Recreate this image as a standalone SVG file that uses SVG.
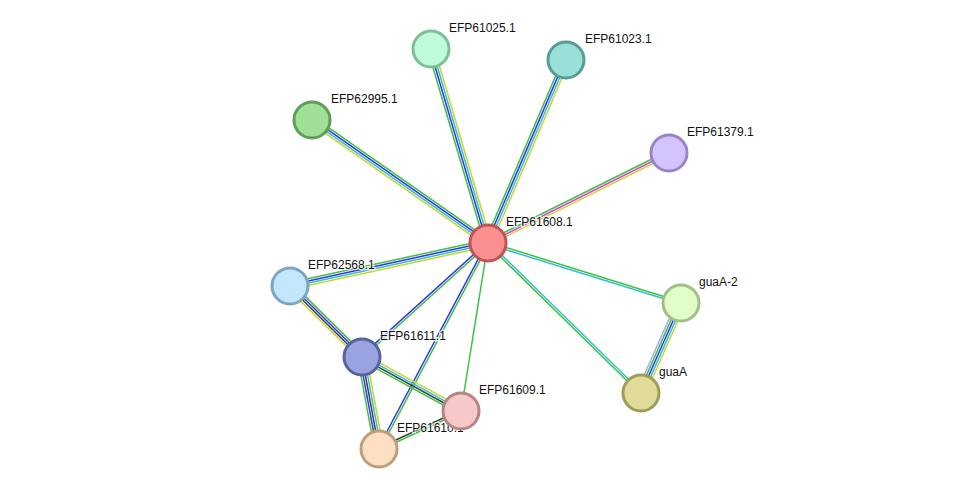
<svg xmlns="http://www.w3.org/2000/svg" width="975" height="495" viewBox="0 0 975 495">
<style>
.e line{stroke-width:1.5;fill:none}
.g{stroke:#3cc23c}.b{stroke:#3333ee}.c{stroke:#35bcd8}.y{stroke:#c6d62e}.m{stroke:#e040e0}.k{stroke:#404040}.l{stroke:#a6a6ff}
.n circle{stroke-width:3}
.n text{font-family:"Liberation Sans",Arial,sans-serif;font-size:12px;fill:#111;stroke:#fff;stroke-width:2.5;stroke-opacity:0.8;paint-order:stroke}
</style>
<rect width="975" height="495" fill="#fff"/>
<g id="connectors" class="e">
  <!-- center to EFP61025.1 -->
  <g transform="translate(488,243) rotate(-106.37)">
    <line class="g" x1="0" y1="-3.3" x2="202.2" y2="-3.3"/><line class="b" x1="0" y1="-1.1" x2="202.2" y2="-1.1"/><line class="c" x1="0" y1="1.1" x2="202.2" y2="1.1"/><line class="y" x1="0" y1="3.3" x2="202.2" y2="3.3"/>
  </g>
  <!-- center to EFP61023.1 -->
  <g transform="translate(488,243) rotate(-66.91)">
    <line class="g" x1="0" y1="-3.3" x2="198.9" y2="-3.3"/><line class="b" x1="0" y1="-1.1" x2="198.9" y2="-1.1"/><line class="c" x1="0" y1="1.1" x2="198.9" y2="1.1"/><line class="y" x1="0" y1="3.3" x2="198.9" y2="3.3"/>
  </g>
  <!-- center to EFP62995.1 -->
  <g transform="translate(488,243) rotate(-145.05)">
    <line class="g" x1="0" y1="3.3" x2="214.7" y2="3.3"/><line class="b" x1="0" y1="1.1" x2="214.7" y2="1.1"/><line class="c" x1="0" y1="-1.1" x2="214.7" y2="-1.1"/><line class="y" x1="0" y1="-3.3" x2="214.7" y2="-3.3"/>
  </g>
  <!-- center to EFP61379.1 -->
  <g transform="translate(488,243) rotate(-26.44)">
    <line class="g" x1="0" y1="-2.2" x2="202.1" y2="-2.2"/><line class="m" x1="0" y1="0" x2="202.1" y2="0"/><line class="y" x1="0" y1="2.2" x2="202.1" y2="2.2"/>
  </g>
  <!-- center to EFP62568.1 -->
  <g transform="translate(488,243) rotate(167.75)">
    <line class="g" x1="0" y1="3.3" x2="202.6" y2="3.3"/><line class="b" x1="0" y1="1.1" x2="202.6" y2="1.1"/><line class="c" x1="0" y1="-1.1" x2="202.6" y2="-1.1"/><line class="y" x1="0" y1="-3.3" x2="202.6" y2="-3.3"/>
  </g>
  <!-- center to guaA-2 -->
  <g transform="translate(488,243) rotate(17.27)">
    <line class="g" x1="0" y1="-1.1" x2="202.1" y2="-1.1"/><line class="c" x1="0" y1="1.1" x2="202.1" y2="1.1"/>
  </g>
  <!-- center to guaA -->
  <g transform="translate(488,243) rotate(44.43)">
    <line class="g" x1="0" y1="1.1" x2="214.3" y2="1.1"/><line class="c" x1="0" y1="-1.1" x2="214.3" y2="-1.1"/>
  </g>
  <!-- center to EFP61611.1 -->
  <g transform="translate(488,243) rotate(137.86)">
    <line class="b" x1="0" y1="1.1" x2="169.9" y2="1.1"/><line class="g" x1="0" y1="-1.1" x2="169.9" y2="-1.1"/>
  </g>
  <!-- center to EFP61610.1 -->
  <g transform="translate(488,243) rotate(117.89)">
    <line class="b" x1="0" y1="1.1" x2="233.1" y2="1.1"/><line class="g" x1="0" y1="-1.1" x2="233.1" y2="-1.1"/>
  </g>
  <!-- center to EFP61609.1 -->
  <line class="g" x1="488" y1="243" x2="461" y2="411"/>
  <!-- EFP62568.1 to EFP61611.1 -->
  <g transform="translate(290,286) rotate(44.6)">
    <line class="g" x1="0" y1="-3.3" x2="101.1" y2="-3.3"/><line class="b" x1="0" y1="-1.1" x2="101.1" y2="-1.1"/><line class="k" x1="0" y1="1.1" x2="101.1" y2="1.1"/><line class="y" x1="0" y1="3.3" x2="101.1" y2="3.3"/>
  </g>
  <!-- EFP61611.1 to EFP61609.1 -->
  <g transform="translate(362,357) rotate(28.61)">
    <line class="y" x1="0" y1="-3.3" x2="112.8" y2="-3.3"/><line class="c" x1="0" y1="-1.1" x2="112.8" y2="-1.1"/><line class="k" x1="0" y1="1.1" x2="112.8" y2="1.1"/><line class="g" x1="0" y1="3.3" x2="112.8" y2="3.3"/>
  </g>
  <!-- EFP61611.1 to EFP61610.1 -->
  <g transform="translate(362,357) rotate(79.53)">
    <line class="g" x1="0" y1="4.4" x2="93.6" y2="4.4"/><line class="b" x1="0" y1="2.2" x2="93.6" y2="2.2"/><line class="k" x1="0" y1="0" x2="93.6" y2="0"/><line class="c" x1="0" y1="-2.2" x2="93.6" y2="-2.2"/><line class="y" x1="0" y1="-4.4" x2="93.6" y2="-4.4"/>
  </g>
  <!-- EFP61610.1 to EFP61609.1 -->
  <g transform="translate(379,449) rotate(-24.86)">
    <line class="k" x1="0" y1="-1.1" x2="90.4" y2="-1.1"/><line class="g" x1="0" y1="1.1" x2="90.4" y2="1.1"/>
  </g>
  <!-- guaA-2 to guaA -->
  <g transform="translate(681,303) rotate(113.96)">
    <line class="l" x1="0" y1="4.4" x2="98.5" y2="4.4"/><line class="g" x1="0" y1="2.2" x2="98.5" y2="2.2"/><line class="b" x1="0" y1="0" x2="98.5" y2="0"/><line class="c" x1="0" y1="-2.2" x2="98.5" y2="-2.2"/><line class="y" x1="0" y1="-4.4" x2="98.5" y2="-4.4"/>
  </g>
</g>
<g id="EFP61608.1" class="n"><circle cx="488" cy="243" r="18" fill="#fc9090" stroke="#c05454"/><text x="506" y="226">EFP61608.1</text></g>
<g id="EFP61025.1" class="n"><circle cx="431" cy="49" r="18" fill="#c1fcda" stroke="#7bbf97"/><text x="449" y="32">EFP61025.1</text></g>
<g id="EFP61023.1" class="n"><circle cx="566" cy="60" r="18" fill="#98e0d8" stroke="#589d95"/><text x="585" y="43">EFP61023.1</text></g>
<g id="EFP62995.1" class="n"><circle cx="312" cy="120" r="18" fill="#a0e096" stroke="#5e9e56"/><text x="331" y="103">EFP62995.1</text></g>
<g id="EFP61379.1" class="n"><circle cx="669" cy="153" r="18" fill="#d4c4fe" stroke="#9a84c8"/><text x="687" y="136">EFP61379.1</text></g>
<g id="EFP62568.1" class="n"><circle cx="290" cy="286" r="18" fill="#c2e7fc" stroke="#7ca5c0"/><text x="308" y="269">EFP62568.1</text></g>
<g id="EFP61611.1" class="n"><circle cx="362" cy="357" r="18" fill="#98a3e0" stroke="#57629f"/><text x="380" y="340">EFP61611.1</text></g>
<g id="EFP61610.1" class="n"><circle cx="379" cy="449" r="18" fill="#fde0c1" stroke="#bf9d7e"/><text x="397" y="432">EFP61610.1</text></g>
<g id="EFP61609.1" class="n"><circle cx="461" cy="411" r="18" fill="#f7c8c8" stroke="#b78484"/><text x="479" y="394">EFP61609.1</text></g>
<g id="guaA-2" class="n"><circle cx="681" cy="303" r="18" fill="#e0fec6" stroke="#a0c088"/><text x="699" y="286">guaA-2</text></g>
<g id="guaA" class="n"><circle cx="641" cy="393" r="18" fill="#dfdb98" stroke="#a09c58"/><text x="659" y="376">guaA</text></g>
</svg>
